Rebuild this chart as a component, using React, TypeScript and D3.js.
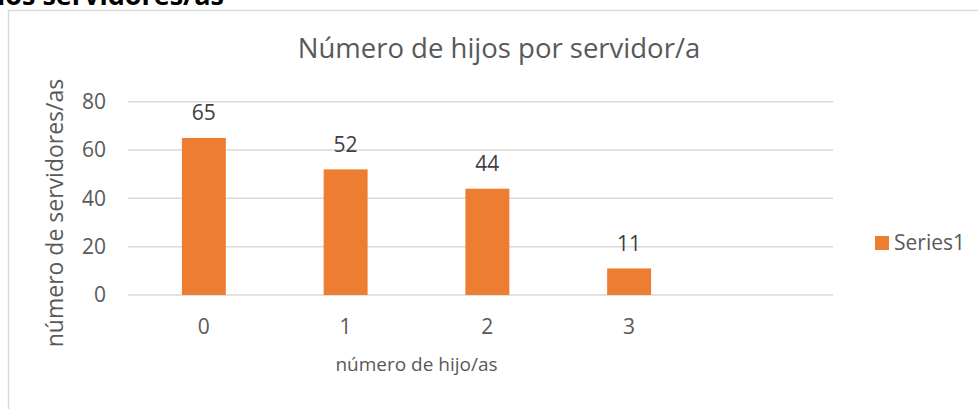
import React, { useEffect, useRef } from 'react';
import * as d3 from 'd3';

const categories = ['0', '1', '2', '3'];
const values = [65, 52, 44, 11];
const yTicks = [0, 20, 40, 60, 80];
const seriesName = 'Series1';

const W = 978;
const H = 409;
const FONT = '"Open Sans", sans-serif';
const TEXT = '#595959';
const GRID = '#D9D9D9';
const BAR = '#ED7D31';

const App: React.FC = () => {
  const svgRef = useRef<SVGSVGElement>(null);

  useEffect(() => {
    if (!svgRef.current) return;
    const svg = d3.select(svgRef.current);
    svg.selectAll('*').remove();

    // plot area (gridlines run a bit past the last category, like the source)
    const gridLeft = 128;
    const gridRight = 833;

    const x = d3.scaleBand<string>()
      .domain(categories)
      .range([133, 700])
      .paddingInner(0.69)
      .paddingOuter(0.345);

    const y = d3.scaleLinear().domain([0, 80]).range([295, 101.7]);

    // heading of the page above the chart, cut by the top edge
    svg.append('text')
      .attr('x', 224)
      .attr('y', 4.5)
      .attr('text-anchor', 'end')
      .style('font-family', FONT)
      .style('font-weight', '700')
      .style('font-size', '27px')
      .style('fill', '#000')
      .text('de los servidores/as');

    // chart border
    svg.append('path')
      .attr('d', `M8.5,${H} V10.5 H${W}`)
      .attr('fill', 'none')
      .attr('stroke', GRID)
      .attr('stroke-width', 1.5);

    // title
    svg.append('text')
      .attr('x', 499)
      .attr('y', 58)
      .attr('text-anchor', 'middle')
      .style('font-family', FONT)
      .style('font-size', '27.5px')
      .style('fill', TEXT)
      .text('Número de hijos por servidor/a');

    // gridlines
    svg.append('g')
      .selectAll('line')
      .data(yTicks)
      .enter().append('line')
      .attr('x1', gridLeft)
      .attr('x2', gridRight)
      .attr('y1', d => y(d))
      .attr('y2', d => y(d))
      .attr('stroke', GRID)
      .attr('stroke-width', 1.5);

    // y tick labels
    svg.append('g')
      .selectAll('text')
      .data(yTicks)
      .enter().append('text')
      .attr('x', 106)
      .attr('y', d => y(d))
      .attr('dy', '0.35em')
      .attr('text-anchor', 'end')
      .style('font-family', FONT)
      .style('font-size', '21px')
      .style('fill', TEXT)
      .text(d => d);

    // bars
    svg.append('g')
      .selectAll('rect')
      .data(values)
      .enter().append('rect')
      .attr('x', (_, i) => x(categories[i])!)
      .attr('width', x.bandwidth())
      .attr('y', d => y(d))
      .attr('height', d => y(0) - y(d))
      .attr('fill', BAR);

    // data labels
    svg.append('g')
      .selectAll('text')
      .data(values)
      .enter().append('text')
      .attr('x', (_, i) => x(categories[i])! + x.bandwidth() / 2)
      .attr('y', d => y(d) - 17.5)
      .attr('text-anchor', 'middle')
      .style('font-family', FONT)
      .style('font-size', '21px')
      .style('fill', '#404040')
      .text(d => d);

    // x tick labels
    svg.append('g')
      .selectAll('text')
      .data(categories)
      .enter().append('text')
      .attr('x', d => x(d)! + x.bandwidth() / 2)
      .attr('y', 333.5)
      .attr('text-anchor', 'middle')
      .style('font-family', FONT)
      .style('font-size', '21px')
      .style('fill', TEXT)
      .text(d => d);

    // axis titles
    svg.append('text')
      .attr('x', 416.5)
      .attr('y', 371)
      .attr('text-anchor', 'middle')
      .style('font-family', FONT)
      .style('font-size', '19px')
      .style('fill', TEXT)
      .text('número de hijo/as');

    svg.append('text')
      .attr('transform', 'translate(63,213) rotate(-90)')
      .attr('text-anchor', 'middle')
      .style('font-family', FONT)
      .style('font-size', '23px')
      .style('fill', TEXT)
      .text('número de servidores/as');

    // legend
    const legend = svg.append('g').attr('transform', 'translate(875,236)');
    legend.append('rect')
      .attr('width', 14)
      .attr('height', 14)
      .attr('fill', BAR);
    legend.append('text')
      .attr('x', 19)
      .attr('y', 7)
      .attr('dy', '0.35em')
      .style('font-family', FONT)
      .style('font-size', '21px')
      .style('fill', TEXT)
      .text(seriesName);
  }, []);

  return (
    <svg
      ref={svgRef}
      width={W}
      height={H}
      viewBox={`0 0 ${W} ${H}`}
      style={{ position: 'absolute', left: 0, top: 0, background: '#fff' }}
    />
  );
};

export default App;
